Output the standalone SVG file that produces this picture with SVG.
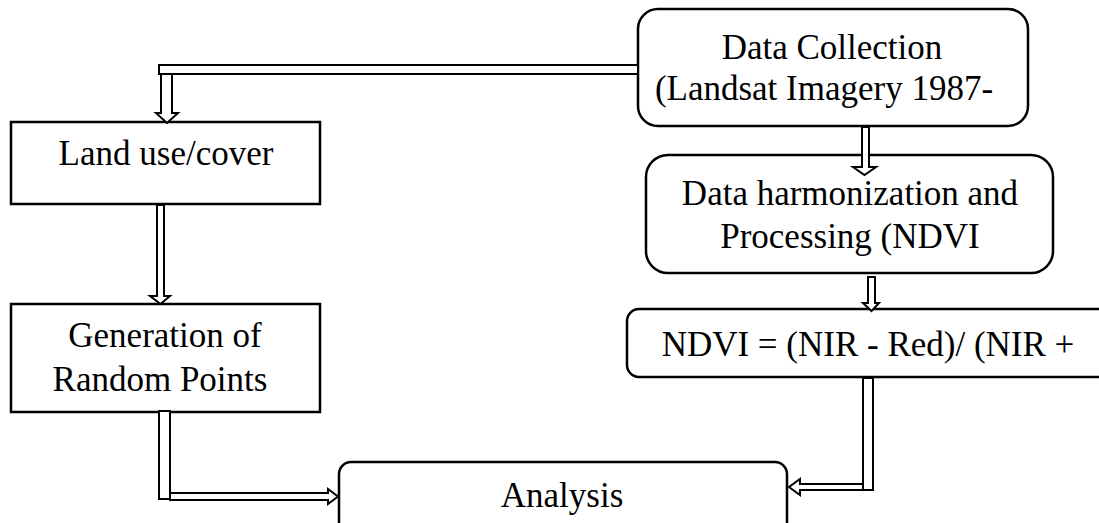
<svg xmlns="http://www.w3.org/2000/svg" width="1099" height="523" viewBox="0 0 1099 523">
<style>
.box{fill:#fff;stroke:#000;stroke-width:2.5}
.con{fill:#fff;stroke:#000;stroke-width:2;stroke-linejoin:miter}
text{font-family:"Liberation Serif","Times New Roman",serif;font-size:35px;fill:#000;text-anchor:middle}
</style>
<rect width="1099" height="523" fill="#fff"/>
<g id="data-collection">
<rect class="box" x="638" y="9" width="390" height="117" rx="20"/>
<text x="832" y="59">Data Collection</text>
<text x="824" y="100">(Landsat Imagery 1987-</text>
</g>
<g id="data-harmonization">
<rect class="box" x="646" y="155" width="407" height="118" rx="22"/>
<text x="850" y="205">Data harmonization and</text>
<text x="850" y="248">Processing (NDVI</text>
</g>
<g id="ndvi">
<rect class="box" x="627" y="309" width="500" height="68" rx="12"/>
<text x="868" y="356">NDVI = (NIR - Red)/ (NIR +</text>
</g>
<g id="land-use">
<rect class="box" x="11" y="122" width="309" height="82"/>
<text x="166" y="165">Land use/cover</text>
</g>
<g id="random-points">
<rect class="box" x="11" y="304" width="309" height="108"/>
<text x="165" y="347">Generation of</text>
<text x="160" y="391">Random Points</text>
</g>
<g id="analysis">
<rect class="box" x="339" y="462" width="448" height="90" rx="12"/>
<text x="562" y="507">Analysis</text>
</g>
<g id="connectors">
<rect class="con" x="159" y="65" width="479" height="9"/>
<path class="con" d="M161,74 H172 V113 H178 L167,123 L156,113 H161 Z"/>
<path class="con" d="M862,127 H869 V167 H876 L864.5,175 L853,167 H862 Z"/>
<path class="con" d="M868,277 H875 V303 H879 L871.5,311 L863,303 H868 Z"/>
<path class="con" d="M157,205 H164 V296 H170 L160.5,304 L150,296 H157 Z"/>
<rect class="con" x="159" y="411" width="11" height="88"/>
<path class="con" d="M170,493 H328 V489 L338,496.5 L328,504 V500 H170 Z"/>
<rect class="con" x="863" y="378" width="10" height="112"/>
<path class="con" d="M863,484 H800 V479 L789,487 L800,495 V490 H863 Z"/>
</g>
</svg>
